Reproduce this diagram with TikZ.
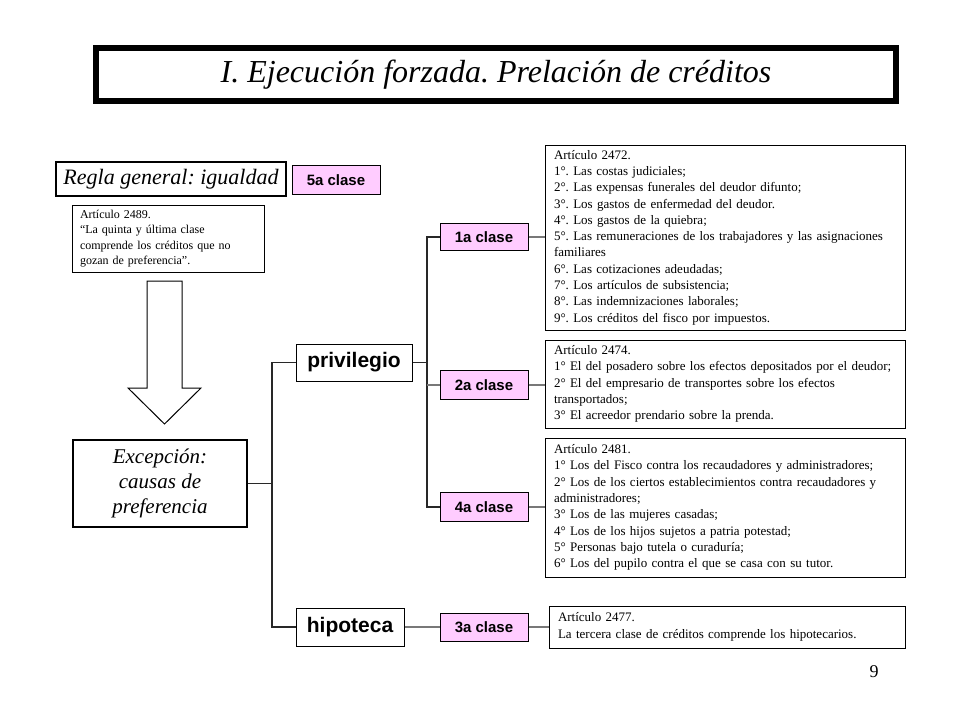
\documentclass[tikz,border=0pt]{standalone}
\usepackage{fontspec}
\setmainfont{Liberation Serif}
\newfontfamily\arial{Liberation Sans}
\definecolor{pinkbox}{RGB}{255,204,255}
\definecolor{lgray}{RGB}{120,120,120}
\definecolor{dline}{RGB}{40,40,40}
\frenchspacing
\begin{document}
\begin{tikzpicture}[x=1pt,y=-1pt,
  thinbox/.style={draw=black,line width=1pt,fill=white,inner sep=0pt,rectangle},
  clsbox/.style={draw=black,line width=1pt,fill=pinkbox,inner sep=0pt,minimum width=88pt,minimum height=29pt,font=\arial\bfseries\fontsize{15}{18}\selectfont},
  catbox/.style={draw=black,line width=1pt,fill=white,inner sep=0pt,font=\arial\bfseries\fontsize{21}{24}\selectfont},
  artbox/.style={draw=black,line width=1pt,fill=white,inner xsep=9pt,inner ysep=0pt,text width=342pt,align=left,font=\fontsize{13}{16.3}\selectfont},
  tree/.style={draw=dline,line width=1.4pt},
  twig/.style={draw=lgray,line width=1.6pt}
]
\useasboundingbox (0,0) rectangle (960,720);
\fill[white] (0,0) rectangle (960,720);

% title
\node[draw=black,line width=6pt,minimum width=800pt,minimum height=53pt,inner sep=0pt,
      font=\itshape\fontsize{32}{36}\selectfont] (title) at (496,74.5)
      {I. Ejecución forzada. Prelación de créditos};

% left column
\node[draw=black,line width=2.5pt,minimum width=230pt,minimum height=34pt,inner sep=0pt,
      font=\itshape\fontsize{22}{26}\selectfont] (regla) at (171,179) {Regla general: igualdad};
\node[clsbox] (c5) at (336,180) {5a clase};

\node[thinbox,minimum width=192pt,minimum height=67pt,inner xsep=8pt,text width=176pt,align=left,
      font=\fontsize{12}{15.5}\selectfont] (a2489) at (168,238.5)
      {Artículo 2489.\\“La quinta y última clase\\comprende los créditos que no\\gozan de preferencia”.};

\draw[black,line width=1pt,fill=white] (147,281) -- (182,281) -- (182,388) -- (201,388)
   -- (164.5,424) -- (128,388) -- (147,388) -- cycle;

\node[draw=black,line width=2.5pt,minimum width=174pt,minimum height=87pt,inner sep=0pt,
      align=center,font=\itshape\fontsize{21}{25}\selectfont] (exc) at (160,483.5)
      {Excepción:\\causas de\\preferencia};

% categories
\node[catbox,minimum width=116pt,minimum height=37pt] (priv) at (354,362.5) {privilegio};
\node[catbox,minimum width=108pt,minimum height=38pt] (hip) at (350,627) {hipoteca};

% classes
\node[clsbox,minimum height=27pt] (c1) at (484,237) {1a clase};
\node[clsbox] (c2) at (484,385) {2a clase};
\node[clsbox] (c4) at (484,507) {4a clase};
\node[clsbox,minimum height=28pt] (c3) at (484,627) {3a clase};

% articles
\node[artbox,minimum height=185pt] (a1) at (725,237.5)
 {Artículo 2472.\\
  1°. Las costas judiciales;\\
  2°. Las expensas funerales del deudor difunto;\\
  3°. Los gastos de enfermedad del deudor.\\
  4°. Los gastos de la quiebra;\\
  5°. Las remuneraciones de los trabajadores y las asignaciones\\
  familiares\\
  6°. Las cotizaciones adeudadas;\\
  7°. Los artículos de subsistencia;\\
  8°. Las indemnizaciones laborales;\\
  9°. Los créditos del fisco por impuestos.};
\node[artbox,minimum height=88pt] (a2) at (725,384)
 {Artículo 2474.\\
  1° El del posadero sobre los efectos depositados por el deudor;\\
  2° El del empresario de transportes sobre los efectos\\
  transportados;\\
  3° El acreedor prendario sobre la prenda.};
\node[artbox,minimum height=139pt] (a4) at (725,507.5)
 {Artículo 2481.\\
  1° Los del Fisco contra los recaudadores y administradores;\\
  2° Los de los ciertos establecimientos contra recaudadores y\\
  administradores;\\
  3° Los de las mujeres casadas;\\
  4° Los de los hijos sujetos a patria potestad;\\
  5° Personas bajo tutela o curaduría;\\
  6° Los del pupilo contra el que se casa con su tutor.};
\node[artbox,text width=338pt,minimum height=42pt] (a3) at (727,627)
 {Artículo 2477.\\
  La tercera clase de créditos comprende los hipotecarios.};

% page number
\node[font=\fontsize{18}{20}\selectfont] (pg) at (874,672) {9};

% connectors
\coordinate (j1) at (272,483.5);
\coordinate (j2) at (427,362.5);
\draw[tree] (exc.east) -- (j1);
\draw[tree] (priv.west) -| (j1);
\draw[tree] (j1) |- (hip.west);
\draw[tree] (priv.east) -- (j2);
\draw[tree] (j2) |- (c1.west);
\draw[tree] (j2) |- (c4.west);
\draw[twig] (j2 |- c2.west) -- (c2.west);
\draw[twig] (c1.east) -- (c1.east -| a1.west);
\draw[twig] (c2.east) -- (c2.east -| a2.west);
\draw[twig] (c4.east) -- (c4.east -| a4.west);
\draw[twig] (hip.east) -- (c3.west);
\draw[twig] (c3.east) -- (c3.east -| a3.west);
\end{tikzpicture}
\end{document}
